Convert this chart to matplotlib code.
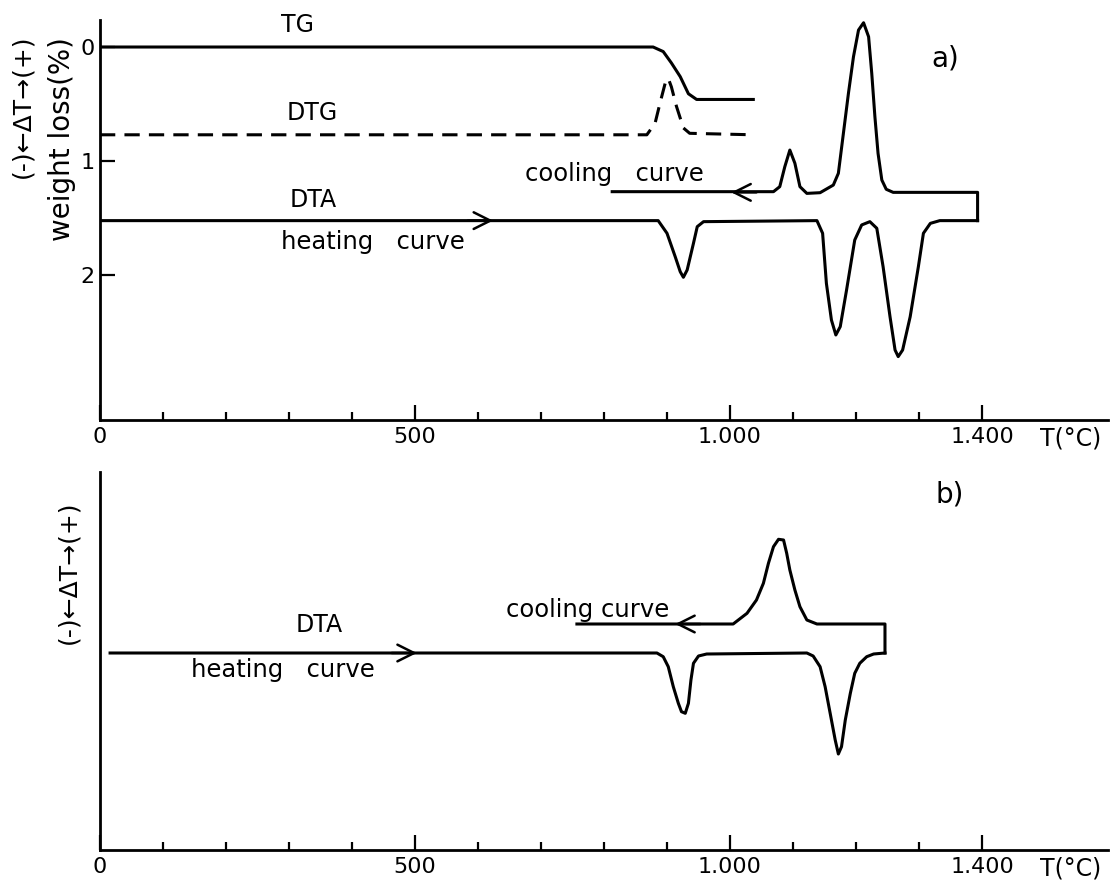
import matplotlib
matplotlib.use("Agg")
import matplotlib.pyplot as plt

plt.rcParams['font.family'] = ['DejaVu Sans']

# ---- panel a) : TG / DTG / DTA (y in weight loss %, DTA drawn on same scale) ----
tg_T = [0, 878, 894, 907, 921, 934, 947, 1037]
tg_w = [0, 0, 0.04, 0.14, 0.26, 0.41, 0.46, 0.46]

dtg_T = [0, 868, 881, 889, 897, 902, 907, 915, 926, 936, 1037]
dtg_w = [0.77, 0.77, 0.67, 0.49, 0.32, 0.275, 0.35, 0.52, 0.71, 0.757, 0.77]

heat_a_T = [0, 886, 900, 913, 921, 926, 932, 942, 948, 958,
            1138, 1147, 1153, 1161, 1168, 1175, 1185, 1198, 1209, 1222,
            1233, 1243, 1254, 1262, 1267, 1274, 1286, 1299, 1307, 1318, 1333, 1393]
heat_a_v = [1.523, 1.523, 1.634, 1.839, 1.971, 2.02, 1.956, 1.722, 1.576, 1.532,
            1.523, 1.634, 2.073, 2.395, 2.526, 2.453, 2.132, 1.693, 1.561, 1.532,
            1.59, 1.927, 2.366, 2.658, 2.716, 2.658, 2.366, 1.927, 1.634, 1.547, 1.523, 1.523]

cool_a_T = [1393, 1393, 1259, 1248, 1241, 1235, 1230, 1225, 1220, 1212, 1204, 1196,
            1188, 1180, 1172, 1164, 1143, 1122, 1111, 1103, 1095, 1087, 1079, 1069, 813]
cool_a_v = [1.523, 1.275, 1.275, 1.248, 1.167, 0.933, 0.611, 0.231, -0.09, -0.213, -0.149, 0.085,
            0.406, 0.757, 1.108, 1.211, 1.278, 1.284, 1.225, 1.02, 0.904, 1.05, 1.225, 1.269, 1.269]

# ---- panel b) : DTA only (arbitrary dT units, heating baseline = 0) ----
heat_b_T = [16, 884, 894, 902, 910, 918, 923, 929, 934, 938, 942, 950, 963,
            1122, 1132, 1143, 1151, 1159, 1167, 1172, 1177, 1183, 1191, 1198, 1206, 1217, 1228, 1246]
heat_b_v = [0, 0, -3.7, -13.7, -33.7, -50.3, -58.7, -60.3, -50.3, -27, -10.3, -3, -1,
            0, -3, -13.7, -33.7, -60.3, -87, -101, -93.7, -67, -40.3, -20.3, -10.3, -3.7, -1, 0]

cool_b_T = [1246, 1246, 1138, 1122, 1111, 1103, 1095, 1090, 1085, 1077,
            1069, 1061, 1053, 1042, 1027, 1005, 757]
cool_b_v = [0, 29, 29, 33, 46.3, 63, 83, 99.7, 113, 113.7,
            106.3, 89.7, 69.7, 53, 39.7, 29, 29]

major_T = [0, 500, 1000, 1400]
major_lbl = ['0', '500', '1.000', '1.400']
minor_T = list(range(100, 1500, 100))

LW = 2.2
CURVE_FS = 17.5
fig = plt.figure(figsize=(11.12, 8.86), dpi=100)
W, H = 1112, 886


def make_axes(top, bottom):
    ax = fig.add_axes([100 / W, 1 - bottom / H, 1008 / W, (bottom - top) / H])
    ax.spines['top'].set_visible(False)
    ax.spines['right'].set_visible(False)
    ax.spines['left'].set_linewidth(2)
    ax.spines['bottom'].set_linewidth(2)
    ax.set_xlim(0, 1600)
    ax.set_xticks(major_T)
    ax.set_xticklabels(major_lbl, fontsize=16)
    ax.set_xticks(minor_T, minor=True)
    ax.tick_params(axis='x', which='major', direction='in', length=11, width=1.6, pad=5)
    ax.tick_params(axis='x', which='minor', direction='in', length=6, width=1.6)
    # T(°C) sits on the same row as the tick labels, ~18 px below the axis
    ax.annotate('T(°C)', xy=(1540, 0), xycoords=('data', 'axes fraction'),
                xytext=(0, -13), textcoords='offset points',
                ha='center', va='center', fontsize=17)
    return ax


def arrow(ax, tip, y, direction):
    ax.annotate('', xy=(tip, y), xytext=(tip - direction * 40, y),
                arrowprops=dict(arrowstyle='->,head_length=0.6,head_width=0.3',
                                lw=1.8, color='black', mutation_scale=20,
                                shrinkA=0, shrinkB=0))


# ---------- a) ----------
ax1 = make_axes(20, 420)
ax1.set_ylim(3.272, -0.237)
ax1.set_yticks([0, 1, 2])
ax1.set_yticklabels(['0', '1', '2'], fontsize=16)
ax1.tick_params(axis='y', direction='in', length=11, width=1.6, pad=4)

ax1.plot(tg_T, tg_w, color='black', lw=LW, solid_joinstyle='round')
ax1.plot(dtg_T, dtg_w, color='black', lw=LW, ls=(0, (5, 3)))
ax1.plot(heat_a_T, heat_a_v, color='black', lw=LW, solid_joinstyle='round')
ax1.plot(cool_a_T, cool_a_v, color='black', lw=LW, solid_joinstyle='round')
arrow(ax1, 624, 1.523, 1)
arrow(ax1, 1002, 1.275, -1)

ax1.text(313, -0.19, 'TG', ha='center', va='center', fontsize=17)
ax1.text(337, 0.58, 'DTG', ha='center', va='center', fontsize=17)
ax1.text(338, 1.34, 'DTA', ha='center', va='center', fontsize=17)
ax1.text(433, 1.71, 'heating   curve', ha='center', va='center', fontsize=CURVE_FS)
ax1.text(817, 1.11, 'cooling   curve', ha='center', va='center', fontsize=CURVE_FS)
ax1.text(1341, 0.10, 'a)', ha='center', va='center', fontsize=20)

fig.text(22 / W, 1 - 106 / H, '(-)←ΔT→(+)', rotation=90, ha='center', va='center', fontsize=18)
fig.text(62 / W, 1 - 139 / H, 'weight loss(%)', rotation=90, ha='center', va='center', fontsize=20)

# ---------- b) ----------
ax2 = make_axes(472, 850)
ax2.set_ylim(-197, 181)
ax2.set_yticks([])

ax2.plot(heat_b_T, heat_b_v, color='black', lw=LW, solid_joinstyle='round')
ax2.plot(cool_b_T, cool_b_v, color='black', lw=LW, solid_joinstyle='round')
arrow(ax2, 503, 0, 1)
arrow(ax2, 913, 29, -1)

ax2.text(348, 28, 'DTA', ha='center', va='center', fontsize=17)
ax2.text(290, -17, 'heating   curve', ha='center', va='center', fontsize=CURVE_FS)
ax2.text(774, 43, 'cooling curve', ha='center', va='center', fontsize=CURVE_FS)
ax2.text(1349, 159, 'b)', ha='center', va='center', fontsize=20)

fig.text(68 / W, 1 - 572 / H, '(-)←ΔT→(+)', rotation=90, ha='center', va='center', fontsize=18)

fig.savefig('out.png', dpi=100, facecolor='white')
